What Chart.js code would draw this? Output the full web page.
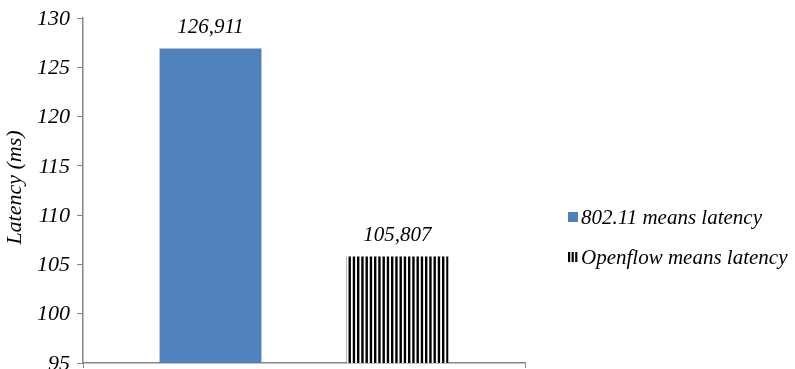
<!DOCTYPE html>
<html>
<head>
<meta charset="utf-8">
<script src="https://cdn.jsdelivr.net/npm/chart.js@4.4.1/dist/chart.umd.min.js"></script>
<style>
  html, body { margin: 0; padding: 0; background: #fff; }
  #wrap { width: 795px; height: 369px; }
</style>
</head>
<body>
<div id="wrap"><canvas id="c" width="795" height="369"></canvas></div>
<script>
// Mean latency per network type (ms)
const categories = [''];
const seriesNames = ['802.11 means latency', 'Openflow means latency'];
const wifiLatency = [126.911];
const openflowLatency = [105.807];
const yTicks = [95, 100, 105, 110, 115, 120, 125, 130];

const SERIF = "'Liberation Serif', 'Times New Roman', serif";
const BLUE = '#4F81BD';
const AXIS = '#868686';

// Vertical black stripe fill for the Openflow bar
function stripePattern() {
  const pc = document.createElement('canvas');
  pc.width = 17; pc.height = 4;
  const p = pc.getContext('2d');
  p.fillStyle = '#ffffff';
  p.fillRect(0, 0, 17, 4);
  p.fillStyle = '#000000';
  for (let i = 0; i < 4; i++) p.fillRect(i * 4.25, 0, 2.4, 4);
  return p.createPattern(pc, 'repeat');
}
const ctx0 = document.getElementById('c').getContext('2d');
const stripes = stripePattern();
const fills = [BLUE, stripes];

const fmt = v => v.toFixed(3).replace('.', ',');

// Value labels above each bar
const valueLabels = {
  id: 'valueLabels',
  afterDatasetsDraw(chart) {
    const ctx = chart.ctx;
    ctx.save();
    ctx.font = 'italic 21px ' + SERIF;
    ctx.fillStyle = '#000';
    ctx.textAlign = 'center';
    ctx.textBaseline = 'alphabetic';
    chart.data.datasets.forEach((ds, i) => {
      const bar = chart.getDatasetMeta(i).data[0];
      ctx.fillText(fmt(ds.data[0]), bar.x, bar.y - 15);
    });
    ctx.restore();
  }
};

// Y tick labels in serif italic, placed at the scale's tick positions
const yTickLabels = {
  id: 'yTickLabels',
  afterDraw(chart) {
    const ctx = chart.ctx;
    const y = chart.scales.y;
    ctx.save();
    ctx.font = 'italic 22px ' + SERIF;
    ctx.fillStyle = '#000';
    ctx.textAlign = 'right';
    ctx.textBaseline = 'middle';
    y.ticks.forEach(t => {
      ctx.fillText(String(t.value), y.right - 13, y.getPixelForValue(t.value) + 1);
    });
    ctx.restore();
  }
};

// Rotated y axis title
const yTitle = {
  id: 'yTitle',
  afterDraw(chart) {
    const ctx = chart.ctx;
    const a = chart.chartArea;
    ctx.save();
    ctx.translate(15, (a.top + a.bottom) / 2 - 3);
    ctx.rotate(-Math.PI / 2);
    ctx.font = 'italic 22px ' + SERIF;
    ctx.fillStyle = '#000';
    ctx.textAlign = 'center';
    ctx.textBaseline = 'middle';
    ctx.fillText('Latency (ms)', 0, 0);
    ctx.restore();
  }
};

// Legend on the right, one row per series
const sideLegend = {
  id: 'sideLegend',
  afterDraw(chart) {
    const ctx = chart.ctx;
    const rows = [217, 257];
    ctx.save();
    ctx.font = 'italic 21px ' + SERIF;
    ctx.textAlign = 'left';
    ctx.textBaseline = 'middle';
    chart.data.datasets.forEach((ds, i) => {
      const y = rows[i];
      if (i === 0) {
        ctx.fillStyle = ds.backgroundColor;
        ctx.fillRect(568, y - 5, 10, 10);
      } else {
        ctx.fillStyle = '#000';
        for (let k = 0; k < 3; k++) ctx.fillRect(568 + k * 3.6, y - 5, 2.2, 10);
      }
      ctx.fillStyle = '#000';
      ctx.fillText(ds.label, 581, y + 1);
    });
    ctx.restore();
  }
};

new Chart(ctx0, {
  type: 'bar',
  data: {
    labels: categories,
    datasets: [
      { label: seriesNames[0], data: wifiLatency, backgroundColor: fills[0] },
      { label: seriesNames[1], data: openflowLatency, backgroundColor: fills[1] }
    ]
  },
  options: {
    responsive: false,
    animation: false,
    devicePixelRatio: 1,
    categoryPercentage: 0.846,
    barPercentage: 0.545,
    layout: { padding: { left: 0, top: 18, right: 270, bottom: 0 } },
    plugins: { legend: { display: false }, tooltip: { enabled: false } },
    scales: {
      x: {
        offset: true,
        grid: { offset: true, drawOnChartArea: false, tickLength: 5, color: AXIS, lineWidth: 1 },
        border: { color: AXIS, width: 1.5 },
        ticks: { display: false },
        afterFit(s) { s.height = 6; s.paddingLeft = 0; s.paddingRight = 0; }
      },
      y: {
        min: yTicks[0],
        max: yTicks[yTicks.length - 1],
        afterBuildTicks(s) { s.ticks = yTicks.map(v => ({ value: v })); },
        grid: { drawOnChartArea: false, tickLength: 6, color: AXIS, lineWidth: 1 },
        border: { color: AXIS, width: 1.5 },
        ticks: { display: false },
        afterFit(s) { s.width = 83; s.paddingTop = 0; s.paddingBottom = 0; }
      }
    }
  },
  plugins: [valueLabels, yTickLabels, yTitle, sideLegend]
});
</script>
</body>
</html>
